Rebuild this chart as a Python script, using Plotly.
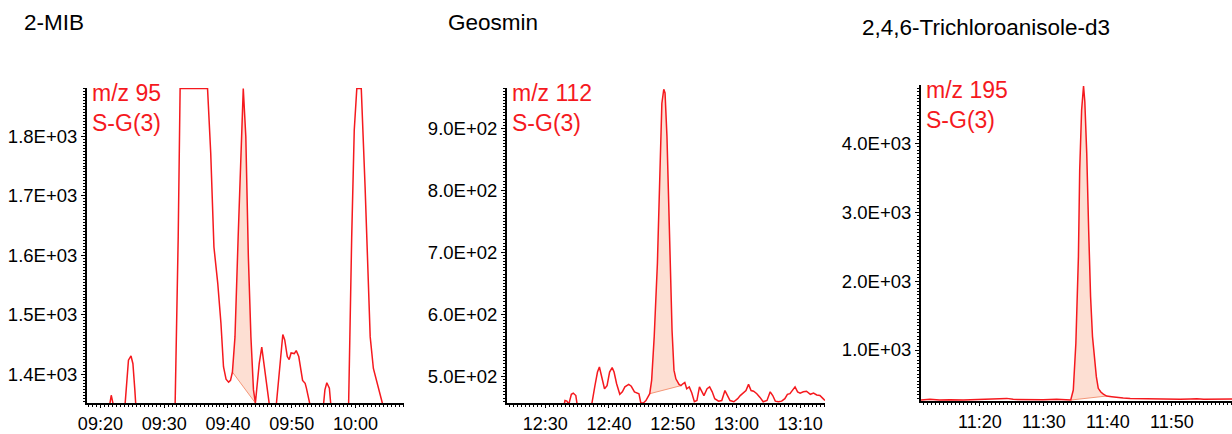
import plotly.graph_objects as go

# ---------------- data ----------------
titles = ["2-MIB", "Geosmin", "2,4,6-Trichloroanisole-d3"]
ion_labels = ["m/z 95<br>S-G(3)", "m/z 112<br>S-G(3)", "m/z 195<br>S-G(3)"]

# retention time in seconds (09:20 -> 560 s)
mib_t = [557.9, 561.4, 561.7, 562.1, 563.8, 564.2, 564.4, 564.8, 565.1, 565.4, 565.6,
         571.7, 572.2, 572.5, 576.8, 577.3, 577.8, 578.4, 578.9, 579.3, 579.7, 580.1,
         580.4, 580.7, 581.1, 581.6, 582.1, 582.4, 582.8, 583.2, 583.6, 584.0, 584.3,
         584.9, 585.3, 585.7, 586.1, 586.4, 586.6, 587.5, 588.1, 588.6, 588.9, 589.3,
         589.6, 589.9, 590.4, 590.7, 591.1, 591.4, 591.7, 592.1, 592.3, 592.8, 593.0,
         594.9, 595.2, 595.5, 595.9, 596.2, 598.9, 599.4, 599.8, 600.2, 600.9, 601.5,
         602.0, 602.3, 602.8, 603.3, 603.8, 604.2, 604.3, 607.6]
mib_v = [1340, 1345, 1365, 1345, 1340, 1407, 1424, 1431, 1418, 1374, 1340,
         1340, 1631, 1880, 1880, 1771, 1614, 1553, 1486, 1413, 1392, 1387,
         1390, 1404, 1463, 1631, 1799, 1880, 1799, 1597, 1463, 1374, 1352,
         1418, 1446, 1413, 1379, 1357, 1340, 1340, 1407, 1467, 1458, 1430,
         1425, 1436, 1435, 1440, 1430, 1413, 1390, 1385, 1377, 1352, 1340,
         1340, 1374, 1386, 1377, 1340, 1340, 1631, 1810, 1880, 1880, 1715,
         1547, 1463, 1410, 1390, 1371, 1352, 1340, 1340]

geo_t = [744.0, 752.9, 753.1, 753.4, 753.7, 754.1, 754.4, 754.8, 755.0, 757.3, 757.8,
         758.2, 758.5, 758.9, 759.3, 759.7, 760.1, 760.5, 760.8, 761.2, 761.7, 762.1,
         762.5, 763.1, 763.5, 764.0, 764.4, 764.7, 765.0, 765.4, 765.8, 766.4, 766.7,
         767.1, 767.6, 768.0, 768.3, 768.6, 768.8, 769.1, 769.5, 769.9, 770.2, 770.5,
         771.0, 771.3, 771.6, 771.9, 772.2, 772.6, 773.0, 773.4, 773.8, 774.2, 774.6,
         774.9, 775.4, 775.8, 776.2, 776.6, 777.2, 777.7, 778.2, 778.6, 779.0, 779.6,
         780.2, 780.6, 781.1, 781.5, 781.9, 782.3, 782.7, 783.2, 783.7, 784.2, 784.8,
         785.3, 785.7, 786.1, 786.6, 787.1, 787.6, 788.0, 788.4, 788.8, 789.2, 789.6,
         790.0, 790.5, 791.0, 791.6, 792.1, 792.6, 793.1, 793.6, 793.9]
geo_v = [450, 450, 461, 460, 455, 471, 473, 469, 455, 455, 485,
         507, 515, 499, 480, 485, 507, 514, 507, 488, 471, 475,
         483, 487, 484, 475, 473, 472, 457, 457, 461, 472, 494,
         564, 682, 833, 940, 963, 957, 887, 736, 574, 510, 496,
         487, 485, 488, 490, 480, 483, 473, 459, 461, 483, 475,
         469, 480, 483, 475, 464, 460, 461, 477, 469, 461, 459,
         464, 469, 473, 477, 487, 477, 476, 472, 466, 459, 461,
         475, 469, 460, 459, 460, 464, 471, 472, 477, 483, 475,
         473, 475, 476, 471, 473, 470, 469, 464, 461]

tca_t = [670.8, 672.2, 673.7, 675.3, 677.4, 679.5, 681.6, 683.1, 684.2, 685.2, 686.8,
         688.3, 689.9, 692.0, 693.6, 694.2, 694.6, 695.0, 695.4, 695.6, 695.9, 696.2,
         696.4, 696.7, 697.0, 697.3, 697.6, 697.9, 698.2, 698.5, 698.9, 699.3, 699.8,
         700.6, 701.4, 702.4, 703.5, 705.0, 706.6, 708.2, 709.7, 711.3, 712.9, 713.9,
         715.0, 716.5, 718.1, 719.4]
tca_v = [274, 284, 274, 279, 274, 279, 284, 289, 298, 284, 279,
         284, 279, 284, 274, 274, 419, 1097, 2355, 3612, 4483, 4832,
         4604, 3854, 2742, 1774, 1194, 903, 613, 444, 390, 361, 332,
         323, 313, 303, 298, 294, 289, 284, 279, 284, 289, 294,
         284, 289, 284, 289]

# integration bounds (start, end) in seconds
peak_bounds = [(580.7, 584.3), (766.4, 771.3), (694.2, 699.8)]

x_ranges = [(557.9, 607.6), (744.0, 793.9), (670.8, 719.4)]
y_ranges = [(1352, 1881), (457, 965), (260, 4846)]

x_tickvals = [[560, 570, 580, 590, 600], [750, 760, 770, 780, 790], [680, 690, 700, 710]]
x_ticktext = [["09:20", "09:30", "09:40", "09:50", "10:00"],
              ["12:30", "12:40", "12:50", "13:00", "13:10"],
              ["11:20", "11:30", "11:40", "11:50"]]
y_tickvals = [[1400, 1500, 1600, 1700, 1800], [500, 600, 700, 800, 900], [1000, 2000, 3000, 4000]]
y_ticktext = [["1.4E+03", "1.5E+03", "1.6E+03", "1.7E+03", "1.8E+03"],
              ["5.0E+02", "6.0E+02", "7.0E+02", "8.0E+02", "9.0E+02"],
              ["1.0E+03", "2.0E+03", "3.0E+03", "4.0E+03"]]
y_minor = [5, 5, 50]

series = [(mib_t, mib_v), (geo_t, geo_v), (tca_t, tca_v)]

# ---------------- layout geometry ----------------
W, H = 1232, 434
x_dom_px = [(87, 404), (507, 825), (921, 1232)]
y_dom_px = [(88, 403), (88, 403), (85, 401)]
title_pos = [(22, 22), (446, 22), (860, 27)]

LINE = "rgb(245,25,30)"
FILL = "rgba(252,212,196,0.75)"
BASE = "rgb(244,150,120)"
FONT = "Liberation Sans"

fig = go.Figure()
layout = dict(width=W, height=H, margin=dict(l=0, r=0, t=0, b=0, autoexpand=False),
              paper_bgcolor="white", plot_bgcolor="white", showlegend=False,
              font=dict(family=FONT, size=18, color="black"))
annotations = []

for i, (t, v) in enumerate(series):
    n = "" if i == 0 else str(i + 1)
    xa, ya = "x" + n, "y" + n
    s, e = peak_bounds[i]
    pt = [a for a in t if s - 1e-6 <= a <= e + 1e-6]
    pv = [b for a, b in zip(t, v) if s - 1e-6 <= a <= e + 1e-6]
    # shaded integrated area (curve + straight baseline)
    fig.add_trace(go.Scatter(x=pt + [pt[0]], y=pv + [pv[0]], fill="toself", fillcolor=FILL,
                             mode="lines", line=dict(width=0), xaxis=xa, yaxis=ya, hoverinfo="skip"))
    fig.add_trace(go.Scatter(x=[pt[0], pt[-1]], y=[pv[0], pv[-1]], mode="lines",
                             line=dict(color=BASE, width=1), xaxis=xa, yaxis=ya, hoverinfo="skip"))
    fig.add_trace(go.Scatter(x=t, y=v, mode="lines", line=dict(color=LINE, width=1.5),
                             xaxis=xa, yaxis=ya))

    x0, x1 = x_dom_px[i]
    y0, y1 = y_dom_px[i]
    layout["xaxis" + n] = dict(
        domain=[x0 / W, x1 / W], range=list(x_ranges[i]), anchor=ya, automargin=False,
        showline=True, linecolor="black", linewidth=2, showgrid=False, zeroline=False,
        tickvals=x_tickvals[i], ticktext=x_ticktext[i], ticks="outside", ticklen=3,
        tickcolor="black", tickwidth=1, tickfont=dict(family=FONT, size=18),
        ticklabelstandoff=0,
        minor=dict(dtick=10 / 16, ticks="outside", ticklen=2, tickcolor="black", tickwidth=1))
    layout["yaxis" + n] = dict(
        domain=[1 - y1 / H, 1 - y0 / H], range=list(y_ranges[i]), anchor=xa, automargin=False,
        showline=True, linecolor="black", linewidth=2, showgrid=False, zeroline=False,
        tickvals=y_tickvals[i], ticktext=y_ticktext[i], ticks="outside", ticklen=4,
        tickcolor="black", tickwidth=1, tickfont=dict(family=FONT, size=18.5),
        minor=dict(dtick=y_minor[i], ticks="outside", ticklen=2, tickcolor="black", tickwidth=1))

    tx, ty = title_pos[i]
    annotations.append(dict(text=titles[i], x=tx / W, y=1 - ty / H, xref="paper", yref="paper",
                            xanchor="left", yanchor="middle", showarrow=False,
                            font=dict(family=FONT, size=22.5, color="black")))
    annotations.append(dict(text=ion_labels[i], x=(x0 + 3) / W, y=1 - (y0 - 10) / H,
                            xref="paper", yref="paper", xanchor="left", yanchor="top",
                            align="left", showarrow=False,
                            font=dict(family=FONT, size=23, color=LINE)))

layout["annotations"] = annotations
fig.update_layout(**layout)
fig.write_html("out.html", config={"displayModeBar": False},
               post_script="document.body.style.margin='0';document.body.style.overflow='hidden';")
